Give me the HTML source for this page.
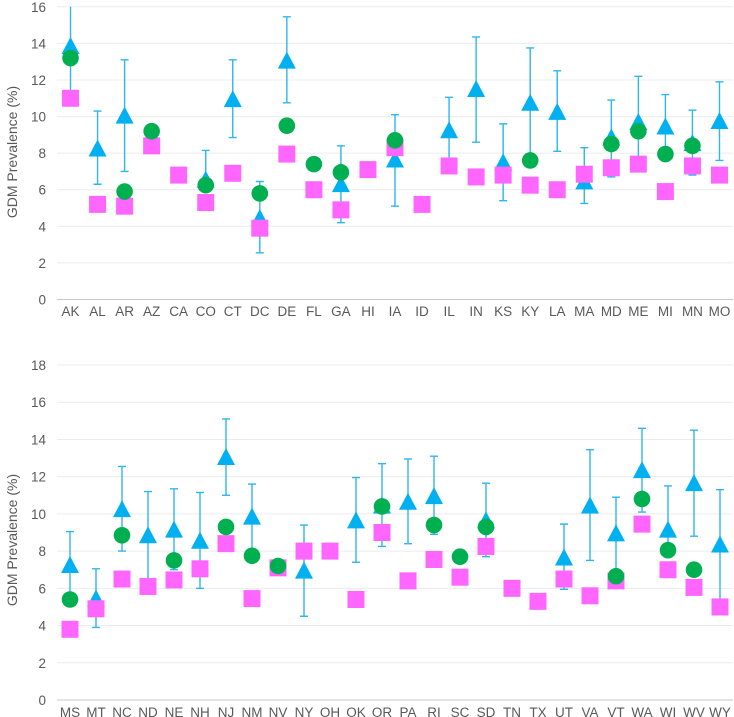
<!DOCTYPE html>
<html><head><meta charset="utf-8">
<style>
html,body{margin:0;padding:0;background:#fff;}
svg{display:block;font-family:"Liberation Sans",sans-serif;}
</style></head>
<body>
<svg id="chart" width="734" height="717" viewBox="0 0 734 717" xmlns="http://www.w3.org/2000/svg"></svg>
<script>
// ---- Top panel data ----
const catsTop = ["AK","AL","AR","AZ","CA","CO","CT","DC","DE","FL","GA","HI","IA","ID","IL","IN","KS","KY","LA","MA","MD","ME","MI","MN","MO"];
const triTop  = [13.8,8.2,10.0,null,null,6.5,10.9,4.4,13.0,null,6.25,null,7.6,null,9.2,11.45,7.45,10.7,10.2,6.4,8.8,9.65,9.4,8.5,9.7];
const hiTop   = [16.5,10.3,13.1,null,null,8.15,13.1,6.45,15.45,null,8.4,null,10.1,null,11.05,14.35,9.6,13.75,12.5,8.3,10.9,12.2,11.2,10.35,11.9];
const loTop   = [11.3,6.3,7.0,null,null,6.2,8.85,2.55,10.75,null,4.2,null,5.1,null,7.5,8.6,5.4,7.6,8.1,5.25,6.7,7.5,8.0,6.8,7.6];
const cirTop  = [13.2,null,5.9,9.2,null,6.25,null,5.8,9.5,7.4,6.95,null,8.7,null,null,null,null,7.6,null,null,8.5,9.2,7.95,8.4,null];
const sqTop   = [11.0,5.2,5.1,8.4,6.8,5.3,6.9,3.9,7.95,6.0,4.9,7.1,8.3,5.2,7.3,6.7,6.8,6.25,6.0,6.85,7.2,7.4,5.9,7.3,6.8];
const ticksTop = [0,2,4,6,8,10,12,14,16];
// ---- Bottom panel data ----
const catsBot = ["MS","MT","NC","ND","NE","NH","NJ","NM","NV","NY","OH","OK","OR","PA","RI","SC","SD","TN","TX","UT","VA","VT","WA","WI","WV","WY"];
const triBot  = [7.2,5.4,10.2,8.8,9.1,8.5,13.0,9.8,null,6.9,null,9.6,10.4,10.6,10.9,null,9.6,null,null,7.6,10.4,8.9,12.3,9.1,11.6,8.3];
const hiBot   = [9.05,7.05,12.55,11.2,11.35,11.15,15.1,11.6,null,9.4,null,11.95,12.7,12.95,13.1,null,11.65,null,null,9.45,13.45,10.9,14.6,11.5,14.5,11.3];
const loBot   = [5.5,3.9,8.0,6.5,7.0,6.0,11.0,7.8,null,4.5,null,7.4,8.25,8.4,8.9,null,7.7,null,null,5.95,7.5,6.5,10.1,8.0,8.8,5.4];
const cirBot  = [5.4,null,8.85,null,7.5,null,9.3,7.75,7.2,null,null,null,10.4,null,9.4,7.7,9.3,null,null,null,null,6.65,10.8,8.05,7.0,null];
const sqBot   = [3.8,4.9,6.5,6.1,6.45,7.05,8.4,5.45,7.1,8.0,8.0,5.4,9.0,6.4,7.55,6.6,8.25,6.0,5.3,6.5,5.6,6.4,9.45,7.0,6.05,5.0];
const ticksBot = [0,2,4,6,8,10,12,14,16,18];

const NS="http://www.w3.org/2000/svg";
const svg=document.getElementById('chart');
function mk(tag,attrs,parent){const e=document.createElementNS(NS,tag);for(const k in attrs)e.setAttribute(k,attrs[k]);(parent||svg).appendChild(e);return e;}

function panel(name,cats,tri,hi,lo,cir,sq,ticks,yZero,yMax,vMax,labelY,titleY){
  const g=mk('g',{});
  
  
  const x0=57, x1=733, step=(x1-x0)/cats.length;
  const X=i=>x0+step*(i+0.5);
  const Y=v=>yZero-(yZero-yMax)*Math.min(v,vMax)/vMax;
  ticks.forEach(t=>{
    const l=mk('line',{x1:x0,x2:x1,y1:Y(t),y2:Y(t),stroke:t===0?'#c8c8c8':'#ececec','stroke-width':1},g);
    
    
    const tx=mk('text',{x:46,y:Y(t)+5,'text-anchor':'end','font-size':13.5,fill:'#595959'},g);
    tx.textContent=t;
    
    
  });
  cats.forEach((c,i)=>{
    const tx=mk('text',{x:X(i),y:labelY,'text-anchor':'middle','font-size':13.5,fill:'#595959'},g);
    tx.textContent=c;
    
    
  });
  const tt=mk('text',{x:0,y:0,'text-anchor':'middle','font-size':14,fill:'#595959',transform:`translate(17,${titleY}) rotate(-90)`},g);
  tt.textContent='GDM Prevalence (%)';
  
  
  // error bars
  cats.forEach((c,i)=>{
    if(hi[i]==null) return;
    const x=X(i), yh=Y(hi[i]), yl=Y(lo[i]);
    const eb=mk('path',{d:`M${x},${yh}V${yl}`+(hi[i]<=vMax?`M${x-4},${yh}H${x+4}`:'')+`M${x-4},${yl}H${x+4}`,stroke:'#2fb5ef','stroke-width':1.4,fill:'none'},g);
    
    
  });
  cats.forEach((c,i)=>{
    if(tri[i]==null) return;
    const x=X(i), y=Y(tri[i]);
    const p=mk('polygon',{points:`${x},${y-10} ${x+9},${y+7} ${x-9},${y+7}`,fill:'#00b0f0'},g);
    
    
  });
  cats.forEach((c,i)=>{
    if(sq[i]==null) return;
    const r=mk('rect',{x:X(i)-8.5,y:Y(sq[i])-8.5,width:17,height:17,fill:'#ff66ff'},g);
    
    
  });
  cats.forEach((c,i)=>{
    if(cir[i]==null) return;
    const ci=mk('circle',{cx:X(i),cy:Y(cir[i]),r:8.3,fill:'#00b050'},g);
    
    
  });
}
panel('top-panel',catsTop,triTop,hiTop,loTop,cirTop,sqTop,ticksTop,299.5,6.8,16,316,152);
panel('bottom-panel',catsBot,triBot,hiBot,loBot,cirBot,sqBot,ticksBot,700,365,18,717,540);
</script>
</body></html>
